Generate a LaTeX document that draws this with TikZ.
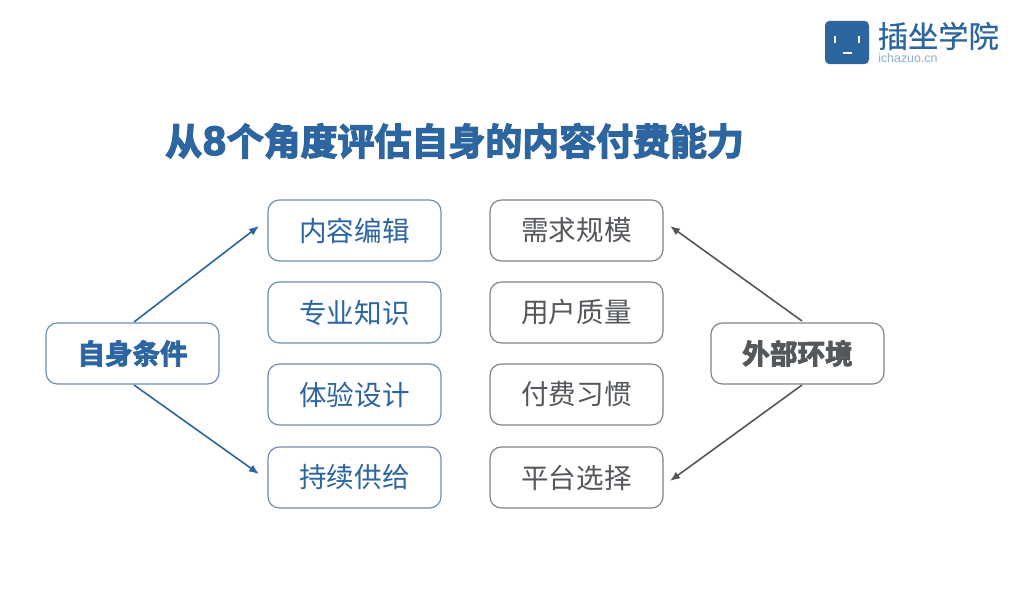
\documentclass[tikz,border=0pt]{standalone}
\usepackage{fontspec}
\usetikzlibrary{arrows.meta}
\setmainfont{Liberation Sans}
\newfontfamily\cjk{Noto Sans CJK SC}
\newfontfamily\cjkmedium[FakeBold=0.5]{Noto Sans CJK SC}
\newfontfamily\cjkheavy[BoldFont={Noto Sans CJK SC Bold},BoldFeatures={FakeBold=3.2}]{Noto Sans CJK SC}
\newfontfamily\cjktitle[FakeBold=3.6]{Noto Sans CJK SC Bold}
\newfontfamily\digittitle[FakeBold=3]{Liberation Sans Bold}
\definecolor{brandblue}{HTML}{2C659F}
\definecolor{boxblue}{HTML}{6C8DB0}
\definecolor{siteblue}{HTML}{8FADCB}
\definecolor{slate}{HTML}{54585C}
\definecolor{boxgrey}{HTML}{808487}
\tikzset{
  x=0.75pt, y=-0.75pt,
  card/.style={draw, line width=0.9pt, rounded corners=8.5pt, fill=white,
    minimum width=129.75pt, minimum height=45.75pt, inner sep=0pt,
    font=\cjk\fontsize{20.7pt}{24pt}\selectfont},
  bluecard/.style={card, draw=boxblue, text=brandblue},
  greycard/.style={card, draw=boxgrey, text=slate},
  headcard/.style={font=\cjkheavy\bfseries\fontsize{20.7pt}{24pt}\selectfont},
  bluelink/.style={draw=brandblue, line width=1.2pt, -{Latex[length=7.5pt,width=6pt]}},
  greylink/.style={draw=slate, line width=1.2pt, -{Latex[length=7.5pt,width=6pt]}},
}
\begin{document}
\begin{tikzpicture}
\useasboundingbox (0,0) rectangle (1032,596);

% heading: the digit is set larger in a heavy Latin face
\node[anchor=west, inner sep=0pt, text=brandblue, font=\cjktitle\fontsize{27.7pt}{32pt}\selectfont]
  (title) at (165,141) {从{\digittitle\fontsize{31pt}{32pt}\selectfont\hspace{0.6pt}8\hspace{0.6pt}}个角度评估自身的内容付费能力};

% brand mark
\node[draw=none, fill=brandblue, rounded corners=3.5pt, minimum width=33pt, minimum height=32.5pt, inner sep=0pt]
  (logo) at (847,42.5) {};
\fill[white] (833.5,36) rectangle (836,43);
\fill[white] (857.5,36) rectangle (860,43);
\fill[white] (843,51.5) rectangle (851.5,53.5);
\node[anchor=west, inner sep=0pt, text=brandblue, font=\cjkmedium\fontsize{22.7pt}{26pt}\selectfont]
  (brand) at (877.5,36) {插坐学院};
\node[anchor=west, inner sep=0pt, text=siteblue, font=\fontsize{9.3pt}{11pt}\selectfont]
  (site) at (878,58.5) {ichazuo.cn};

% left column
\node[bluecard] (a1) at (354.5,230.5) {内容编辑};
\node[bluecard] (a2) at (354.5,312.5) {专业知识};
\node[bluecard] (a3) at (354.5,394.5) {体验设计};
\node[bluecard] (a4) at (354.5,477.5) {持续供给};

% right column
\node[greycard] (b1) at (576.5,230.5) {需求规模};
\node[greycard] (b2) at (576.5,312.5) {用户质量};
\node[greycard] (b3) at (576.5,394.5) {付费习惯};
\node[greycard] (b4) at (576.5,477.5) {平台选择};

% the two groups
\node[bluecard, headcard] (self) at (132.5,353.5) {自身条件};
\node[greycard, headcard] (env) at (797.5,353.5) {外部环境};

% arrow ends stop short of the cards
\coordinate (a1end) at (259,226);
\coordinate (a4end) at (259,474);
\coordinate (b1end) at (670,226);
\coordinate (b4end) at (670,481);
\coordinate (selfup) at (134,322);
\coordinate (selfdown) at (134,385);
\coordinate (envup) at (802,321);
\coordinate (envdown) at (802,385);

\draw[bluelink] (selfup) -- (a1end);
\draw[bluelink] (selfdown) -- (a4end);
\draw[greylink] (envup) -- (b1end);
\draw[greylink] (envdown) -- (b4end);
\end{tikzpicture}
\end{document}
